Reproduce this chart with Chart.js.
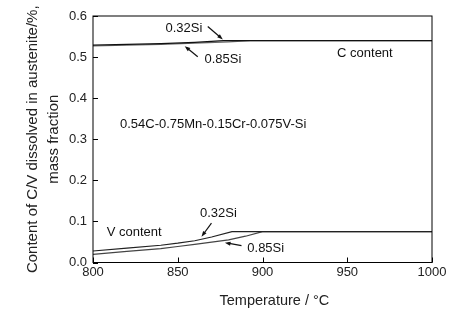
<!DOCTYPE html>
<html>
<head>
<meta charset="utf-8">
<script src="https://cdn.jsdelivr.net/npm/chart.js@4"></script>
<style>
  html, body { margin: 0; padding: 0; background: #fff; }
  #wrap { width: 458px; height: 321px; }
</style>
</head>
<body>
<div id="wrap"><canvas id="myChart" width="458" height="321"></canvas></div>
<script>
// temperatures (°C) and dissolved content (% mass fraction)
const tempC032 = [800, 820, 840, 860, 877, 900, 950, 1000];
const valC032 = [0.529, 0.531, 0.533, 0.536, 0.540, 0.540, 0.540, 0.540];
const tempC085 = [800, 820, 840, 860, 880, 893, 950, 1000];
const valC085 = [0.527, 0.529, 0.531, 0.534, 0.537, 0.540, 0.540, 0.540];

const tempV032 = [800, 820, 840, 850, 860, 870, 882, 900, 950, 1000];
const valV032 = [0.028, 0.035, 0.042, 0.047, 0.053, 0.062, 0.075, 0.075, 0.075, 0.075];
const tempV085 = [800, 820, 840, 850, 860, 880, 890, 900, 950, 1000];
const valV085 = [0.020, 0.027, 0.034, 0.039, 0.044, 0.055, 0.064, 0.075, 0.075, 0.075];

const xTicks = [800, 850, 900, 950, 1000];
const yTicks = [0.0, 0.1, 0.2, 0.3, 0.4, 0.5, 0.6];

const xTitle = "Temperature / °C";

// text notes (data units) and arrows [fromX, fromY, toX, toY]
const notes = [
  { text: "0.32Si", x: 853.6, y: 0.570 },
  { text: "0.85Si", x: 876.6, y: 0.494 },
  { text: "C content", x: 960.4, y: 0.5085 },
  { text: "0.54C-0.75Mn-0.15Cr-0.075V-Si", x: 870.9, y: 0.3354 },
  { text: "V content", x: 824.3, y: 0.072 },
  { text: "0.32Si", x: 874.0, y: 0.1183 },
  { text: "0.85Si", x: 901.9, y: 0.0346 }
];
const arrows = [
  [867.7, 0.5744, 876.6, 0.5430],
  [861.8, 0.5010, 854.1, 0.5265],
  [869.9, 0.0956, 864.0, 0.0629],
  [887.6, 0.0410, 877.8, 0.0483]
];

const FONT = "'Liberation Sans', Arial, sans-serif";

function toPoints(xs, ys) {
  return xs.map((x, i) => ({ x: x, y: ys[i] }));
}

function drawArrow(ctx, x1, y1, x2, y2) {
  const ang = Math.atan2(y2 - y1, x2 - x1);
  const len = 6;
  ctx.beginPath();
  ctx.moveTo(x1, y1);
  ctx.lineTo(x2 - Math.cos(ang) * 3, y2 - Math.sin(ang) * 3);
  ctx.stroke();
  ctx.beginPath();
  ctx.moveTo(x2, y2);
  ctx.lineTo(x2 - len * Math.cos(ang - 0.35), y2 - len * Math.sin(ang - 0.35));
  ctx.lineTo(x2 - len * Math.cos(ang + 0.35), y2 - len * Math.sin(ang + 0.35));
  ctx.closePath();
  ctx.fill();
}

const framePlugin = {
  id: "frame",
  afterDraw(chart) {
    const ctx = chart.ctx;
    const a = chart.chartArea;
    const xs = chart.scales.x;
    const ys = chart.scales.y;
    ctx.save();
    ctx.strokeStyle = "#000";
    ctx.lineWidth = 1;
    ctx.strokeRect(a.left, a.top, a.right - a.left, a.bottom - a.top);
    // inward ticks
    ctx.beginPath();
    xTicks.forEach((t) => {
      const px = Math.round(xs.getPixelForValue(t)) + 0.5;
      ctx.moveTo(px, a.bottom);
      ctx.lineTo(px, a.bottom - 5);
    });
    yTicks.forEach((t) => {
      const py = Math.round(ys.getPixelForValue(t)) + 0.5;
      ctx.moveTo(a.left, py);
      ctx.lineTo(a.left + 5, py);
    });
    ctx.stroke();

    ctx.fillStyle = "#111";
    ctx.font = "13px " + FONT;
    ctx.textAlign = "center";
    ctx.textBaseline = "middle";
    notes.forEach((n) => {
      ctx.fillText(n.text, xs.getPixelForValue(n.x), ys.getPixelForValue(n.y));
    });
    ctx.strokeStyle = "#111";
    ctx.lineWidth = 1.2;
    arrows.forEach((r) => {
      drawArrow(ctx,
        xs.getPixelForValue(r[0]), ys.getPixelForValue(r[1]),
        xs.getPixelForValue(r[2]), ys.getPixelForValue(r[3]));
    });

    // x axis title, sits a little right of centre in the original
    ctx.fillStyle = "#222";
    ctx.font = "14.5px " + FONT;
    ctx.fillText(xTitle, xs.getPixelForValue(907), a.bottom + 38);
    ctx.restore();
  }
};

const lineStyle = (color) => ({
  borderColor: color,
  borderWidth: 1.2,
  pointRadius: 0,
  fill: false,
  tension: 0
});

const config = {
  type: "line",
  data: {
    datasets: [
      Object.assign({ label: "C 0.32Si", data: toPoints(tempC032, valC032) }, lineStyle("#111")),
      Object.assign({ label: "C 0.85Si", data: toPoints(tempC085, valC085) }, lineStyle("#666")),
      Object.assign({ label: "V 0.32Si", data: toPoints(tempV032, valV032) }, lineStyle("#222")),
      Object.assign({ label: "V 0.85Si", data: toPoints(tempV085, valV085) }, lineStyle("#444"))
    ]
  },
  options: {
    responsive: false,
    animation: false,
    layout: { padding: { top: 16, right: 26, left: 0, bottom: 0 } },
    plugins: {
      legend: { display: false },
      tooltip: { enabled: false }
    },
    scales: {
      x: {
        type: "linear",
        min: 800,
        max: 1000,
        afterBuildTicks: (s) => { s.ticks = xTicks.map((v) => ({ value: v })); },
        afterFit: (s) => { s.height = 58.5; },
        grid: { display: false, drawTicks: false },
        border: { display: false },
        ticks: {
          padding: 2,
          color: "#222",
          font: { family: FONT, size: 13 },
          callback: (v) => String(v)
        },
        title: { display: false }
      },
      y: {
        type: "linear",
        min: 0,
        max: 0.6,
        afterBuildTicks: (s) => { s.ticks = yTicks.map((v) => ({ value: v })); },
        afterFit: (s) => { s.width = 93; },
        grid: { display: false, drawTicks: false },
        border: { display: false },
        ticks: {
          padding: 6,
          color: "#222",
          font: { family: FONT, size: 13 },
          callback: (v) => Number(v).toFixed(1)
        },
        title: {
          display: true,
          text: ["Content of C/V dissolved in austenite/%,", "mass fraction"],
          color: "#222",
          font: { family: FONT, size: 15, lineHeight: 1.35 },
          padding: { top: 23, bottom: 0 }
        }
      }
    }
  },
  plugins: [framePlugin]
};

new Chart(document.getElementById("myChart").getContext("2d"), config);
</script>
</body>
</html>
